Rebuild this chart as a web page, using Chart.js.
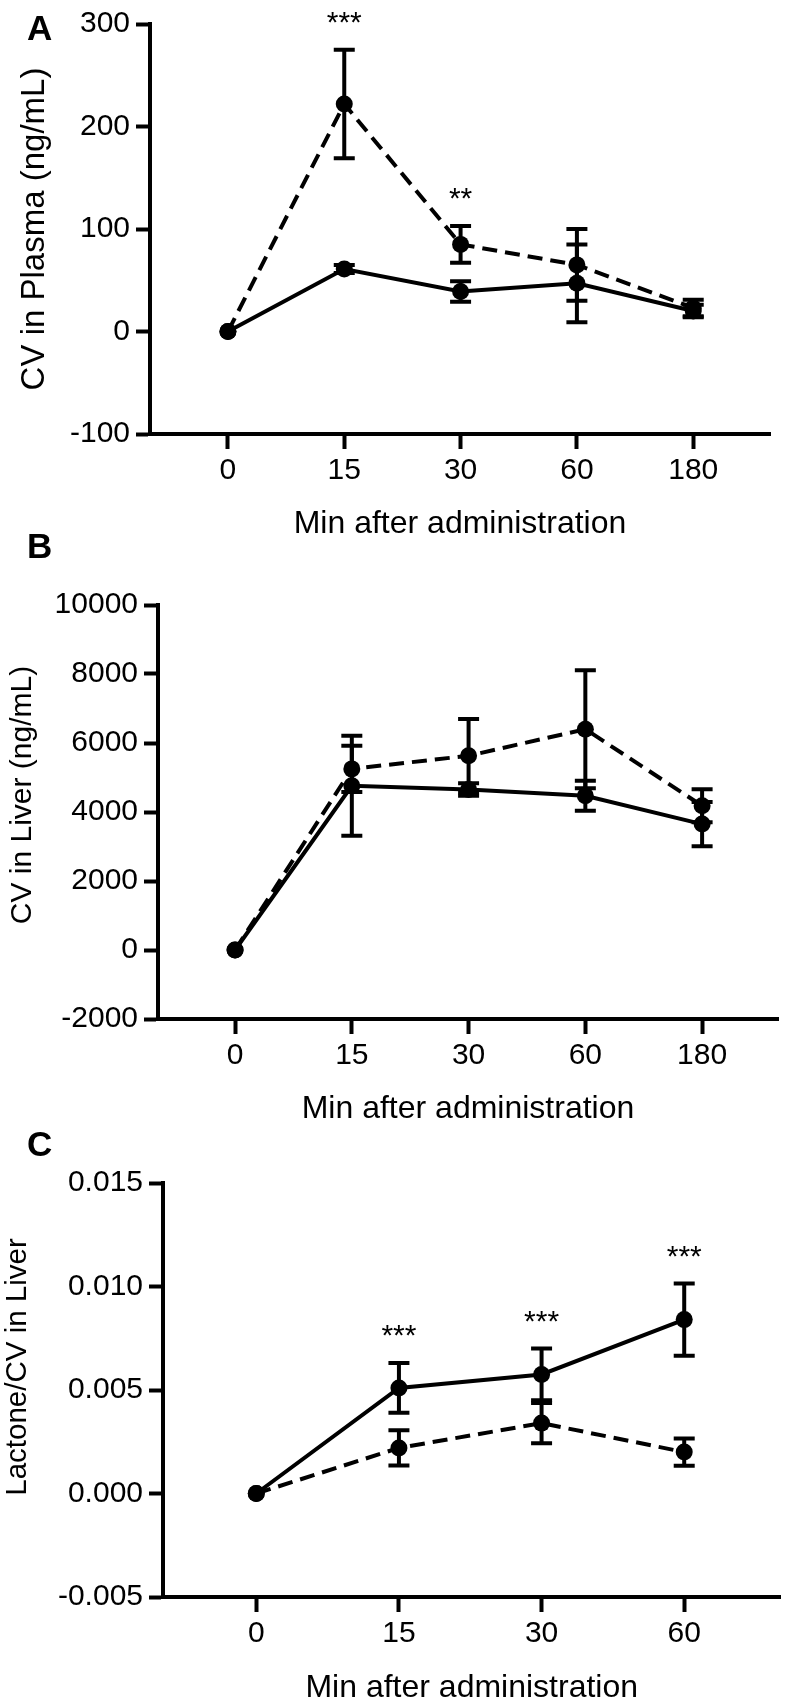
<!DOCTYPE html>
<html>
<head>
<meta charset="utf-8">
<script src="https://cdn.jsdelivr.net/npm/chart.js@4.4.1/dist/chart.umd.min.js"></script>
<style>
  html, body { margin: 0; padding: 0; background: #fff; }
  body { width: 789px; height: 1702px; position: relative; overflow: hidden; font-family: "Liberation Sans", Arial, sans-serif; }
  canvas { position: absolute; left: 0; }
  .letter { position: absolute; left: 27px; font-weight: bold; font-size: 35px; line-height: 35px; color: #000; }
</style>
</head>
<body>
<canvas id="chartA" width="789" height="550" style="top:0px"></canvas>
<canvas id="chartB" width="789" height="580" style="top:560px"></canvas>
<canvas id="chartC" width="789" height="562" style="top:1140px"></canvas>
<div class="letter" style="top:10px">A</div>
<div class="letter" style="top:528px">B</div>
<div class="letter" style="top:1126px">C</div>
<script>
// categorias (min despues de la administracion)
const minutos = ['0', '15', '30', '60', '180']
const minutosLactona = ['0', '15', '30', '60']

// A - CV en plasma
const plasmaDash = [0, 222, 85, 65, 23]
const plasmaDashErr = [0, 53, 18, 35, 8]
const plasmaSolid = [0, 61, 39, 47, 20]
const plasmaSolidErr = [0, 4, 10, 38, 6]
const plasmaStars = ['', '***', '**', '', '']
const plasmaTicks = [-100, 0, 100, 200, 300]

// B - CV en higado
const liverDash = [0, 5250, 5630, 6400, 4180]
const liverDashErr = [0, 670, 1065, 1710, 480]
const liverSolid = [0, 4760, 4650, 4470, 3650]
const liverSolidErr = [0, 1450, 180, 435, 640]
const liverTicks = [-2000, 0, 2000, 4000, 6000, 8000, 10000]

// C - Lactona/CV en higado
const ratioSolid = [0, 0.0051, 0.00575, 0.0084]
const ratioSolidErr = [0, 0.0012, 0.00125, 0.00174]
const ratioDash = [0, 0.0022, 0.0034, 0.0020]
const ratioDashErr = [0, 0.00085, 0.00097, 0.00066]
const ratioStars = ['', '***', '***', '***']
const ratioTicks = [-0.005, 0, 0.005, 0.010, 0.015]

const FONT = '"Liberation Sans", Arial, Helvetica, sans-serif'

// barras de error (debajo de los puntos)
const errorBars = {
    id: 'errorBars',
    beforeDatasetsDraw(chart) {
        const ctx = chart.ctx
        const yScale = chart.scales.y
        chart.data.datasets.forEach((ds, d) => {
            if (!ds.errors) return
            const meta = chart.getDatasetMeta(d)
            ctx.save()
            ctx.strokeStyle = '#000'
            ctx.lineWidth = 4
            meta.data.forEach((pt, i) => {
                const err = ds.errors[i]
                if (!err) return
                const v = ds.data[i].y
                const top = yScale.getPixelForValue(v + err)
                const bot = yScale.getPixelForValue(v - err)
                ctx.beginPath()
                ctx.moveTo(pt.x, top); ctx.lineTo(pt.x, bot)
                ctx.moveTo(pt.x - 10.5, top); ctx.lineTo(pt.x + 10.5, top)
                ctx.moveTo(pt.x - 10.5, bot); ctx.lineTo(pt.x + 10.5, bot)
                ctx.stroke()
            })
            ctx.restore()
        })
    }
}

// asteriscos de significancia
const stars = {
    id: 'stars',
    afterDatasetsDraw(chart) {
        const ctx = chart.ctx
        const yScale = chart.scales.y
        chart.data.datasets.forEach((ds, d) => {
            if (!ds.stars) return
            const meta = chart.getDatasetMeta(d)
            ctx.save()
            ctx.fillStyle = '#000'
            ctx.font = '30px ' + FONT
            ctx.textAlign = 'center'
            ctx.textBaseline = 'middle'
            meta.data.forEach((pt, i) => {
                if (!ds.stars[i]) return
                const top = yScale.getPixelForValue(ds.data[i].y + (ds.errors ? ds.errors[i] : 0))
                ctx.fillText(ds.stars[i], pt.x, top - 26)
            })
            ctx.restore()
        })
    }
}

// titulo del eje y
const yTitle = {
    id: 'yTitle',
    afterDraw(chart, args, opts) {
        const ctx = chart.ctx
        const area = chart.chartArea
        ctx.save()
        ctx.translate(opts.x, (area.top + area.bottom) / 2 + opts.shift)
        ctx.rotate(-Math.PI / 2)
        ctx.fillStyle = '#000'
        ctx.font = opts.size + 'px ' + FONT
        ctx.textAlign = 'center'
        ctx.textBaseline = 'middle'
        ctx.fillText(opts.text, 0, 0)
        ctx.restore()
    }
}

function serie(values, errors, dashed, starList) {
    return {
        data: values.map((v, i) => ({x: i, y: v})),
        errors: errors,
        stars: starList,
        borderColor: '#000',
        borderWidth: 4,
        borderDash: dashed ? [15, 8] : [],
        pointRadius: 8.5,
        pointBackgroundColor: '#000',
        pointBorderWidth: 0,
        tension: 0,
        clip: false
    }
}

function crearPanel(idCanvas, cats, ticks, fmt, datasets, p) {
    new Chart(document.getElementById(idCanvas), {
        type: 'line',
        data: {datasets: datasets},
        plugins: [errorBars, stars, yTitle],
        options: {
            responsive: false,
            animation: false,
            devicePixelRatio: 1,
            layout: {padding: {top: p.top, right: p.right, left: 0, bottom: 0}},
            scales: {
                x: {
                    type: 'linear',
                    min: -p.offL,
                    max: cats.length - 1 + p.offR,
                    afterBuildTicks: s => { s.ticks = cats.map((c, i) => ({value: i})) },
                    afterFit: s => { s.height = p.xHeight },
                    ticks: {
                        callback: v => cats[v],
                        font: {size: 30, family: FONT},
                        color: '#000',
                        padding: 4,
                        maxRotation: 0,
                        autoSkip: false
                    },
                    grid: {drawOnChartArea: false, drawTicks: true, tickLength: 15, tickWidth: 4, tickColor: '#000'},
                    border: {display: true, width: 4, color: '#000'},
                    title: {
                        display: true,
                        text: 'Min after administration',
                        color: '#000',
                        font: {size: 32, family: FONT, lineHeight: 0.8},
                        padding: {top: 0, bottom: p.titlePad}
                    }
                },
                y: {
                    min: ticks[0],
                    max: ticks[ticks.length - 1],
                    afterBuildTicks: s => { s.ticks = ticks.map(v => ({value: v})) },
                    afterFit: s => { s.width = p.yWidth },
                    ticks: {
                        callback: v => fmt(v),
                        font: {size: 30, family: FONT},
                        color: '#000',
                        padding: 6
                    },
                    grid: {drawOnChartArea: false, drawTicks: true, tickLength: 14, tickWidth: 4, tickColor: '#000'},
                    border: {display: true, width: 4, color: '#000'}
                }
            },
            plugins: {
                legend: {display: false},
                tooltip: {enabled: false},
                yTitle: {text: p.yText, x: p.yTitleX, shift: p.yShift, size: p.ySize}
            }
        }
    })
}

crearPanel('chartA', minutos, plasmaTicks, v => String(v), [
    serie(plasmaDash, plasmaDashErr, true, plasmaStars),
    serie(plasmaSolid, plasmaSolidErr, false, null)
], {top: 21, right: 19, yWidth: 150, xHeight: 116, titlePad: 13, offL: 0.67, offR: 0.66,
    yText: 'CV in Plasma (ng/mL)', yTitleX: 35, yShift: 0, ySize: 33})

crearPanel('chartB', minutos, liverTicks, v => String(v), [
    serie(liverDash, liverDashErr, true, null),
    serie(liverSolid, liverSolidErr, false, null)
], {top: 45, right: 11, yWidth: 158, xHeight: 121, titlePad: 18, offL: 0.66, offR: 0.65,
    yText: 'CV in Liver (ng/mL)', yTitleX: 23, yShift: -17, ySize: 30})

crearPanel('chartC', minutosLactona, ratioTicks, v => v.toFixed(3), [
    serie(ratioSolid, ratioSolidErr, false, ratioStars),
    serie(ratioDash, ratioDashErr, true, null)
], {top: 43, right: 4, yWidth: 163, xHeight: 105, titlePad: 1, offL: 0.654, offR: 0.675,
    yText: 'Lactone/CV in Liver', yTitleX: 18, yShift: -23, ySize: 29.5})
</script>
</body>
</html>
